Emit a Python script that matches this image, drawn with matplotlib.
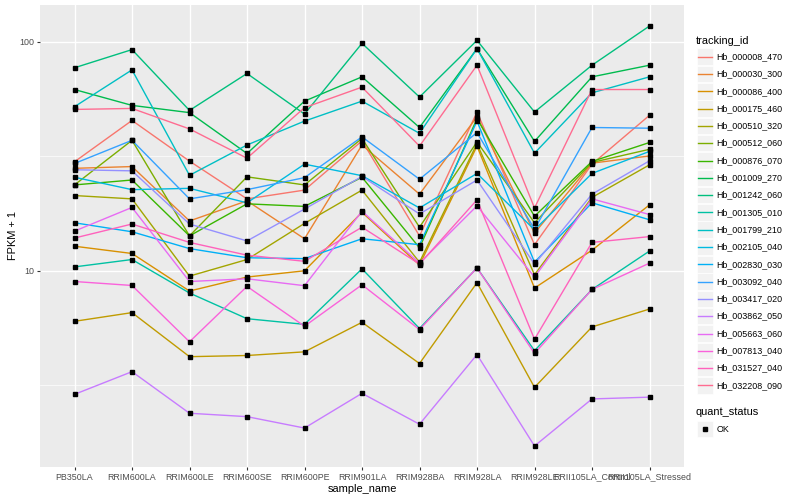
import matplotlib
matplotlib.use('Agg')
import matplotlib.pyplot as plt
from matplotlib.patches import Rectangle
from matplotlib.lines import Line2D
from matplotlib.ticker import FixedLocator, NullFormatter
import numpy as np

plt.rcParams['font.family'] = ['Liberation Sans', 'DejaVu Sans']

# 样本名
samples = ['PB350LA', 'RRIM600LA', 'RRIM600LE', 'RRIM600SE', 'RRIM600PE', 'RRIM901LA',
           'RRIM928BA', 'RRIM928LA', 'RRIM928LE', 'RRII105LA_Control', 'RRII105LA_Stressed']

tracking_ids = ['Hb_000008_470', 'Hb_000030_300', 'Hb_000086_400', 'Hb_000175_460',
                'Hb_000510_320', 'Hb_000512_060', 'Hb_000876_070', 'Hb_001009_270',
                'Hb_001242_060', 'Hb_001305_010', 'Hb_001799_210', 'Hb_002105_040',
                'Hb_002830_030', 'Hb_003092_040', 'Hb_003417_020', 'Hb_003862_050',
                'Hb_005663_060', 'Hb_007813_040', 'Hb_031527_040', 'Hb_032208_090']

# FPKM + 1 数值
hb_000008_470 = [29.9, 45.3, 30.1, 20.6, 22.5, 36.9, 14.2, 49.3, 13.0, 29.2, 47.7]
hb_000030_300 = [28.0, 28.5, 16.5, 20.2, 13.8, 35.4, 21.6, 47.0, 14.6, 29.5, 31.7]
hb_000086_400 = [12.8, 11.9, 8.16, 9.39, 10.0, 18.0, 10.6, 35.0, 8.41, 12.3, 19.4]
hb_000175_460 = [6.02, 6.57, 4.22, 4.27, 4.43, 5.96, 3.94, 8.87, 3.10, 5.69, 6.81]
hb_000510_320 = [21.3, 20.6, 9.48, 11.2, 16.1, 22.5, 10.9, 35.9, 9.61, 20.9, 29.0]
hb_000512_060 = [23.7, 37.1, 14.2, 25.7, 23.7, 37.8, 15.5, 36.5, 16.2, 29.7, 33.9]
hb_000876_070 = [23.7, 24.9, 14.2, 19.6, 19.1, 25.6, 12.6, 46.1, 17.3, 30.0, 36.3]
hb_001009_270 = [61.8, 52.7, 49.0, 32.5, 55.0, 70.2, 42.2, 93.2, 36.7, 70.2, 78.9]
hb_001242_060 = [76.9, 92.3, 50.1, 72.6, 48.3, 98.3, 57.3, 101.3, 49.3, 78.9, 117.0]
hb_001305_010 = [10.4, 11.2, 8.0, 6.18, 5.84, 10.2, 5.60, 10.3, 4.48, 8.29, 12.2]
hb_001799_210 = [52.0, 75.3, 26.1, 35.4, 45.0, 55.0, 39.8, 93.2, 32.6, 59.8, 70.2]
hb_002105_040 = [25.6, 22.6, 22.9, 19.8, 29.2, 26.0, 18.8, 26.6, 15.1, 26.6, 33.2]
hb_002830_030 = [16.2, 14.8, 12.5, 11.4, 11.3, 13.8, 13.0, 45.0, 10.9, 19.8, 16.7]
hb_003092_040 = [29.4, 37.1, 20.6, 22.6, 25.5, 38.4, 25.1, 40.1, 15.2, 42.2, 41.9]
hb_003417_020 = [27.6, 27.3, 16.0, 13.5, 18.6, 25.8, 17.7, 24.9, 10.7, 21.6, 30.2]
hb_003862_050 = [2.89, 3.63, 2.39, 2.31, 2.06, 2.92, 2.14, 4.31, 1.72, 2.76, 2.81]
hb_005663_060 = [14.9, 18.9, 8.98, 9.23, 8.61, 18.2, 10.8, 19.2, 9.39, 20.6, 17.6]
hb_007813_040 = [8.98, 8.63, 4.90, 8.55, 5.73, 8.69, 5.54, 10.3, 4.36, 8.29, 10.8]
hb_031527_040 = [13.9, 16.0, 13.3, 11.7, 11.0, 15.5, 10.7, 20.4, 5.03, 13.3, 14.1]
hb_032208_090 = [50.6, 51.1, 41.6, 31.0, 51.5, 63.3, 35.0, 78.9, 18.8, 61.8, 61.8]

series = [hb_000008_470, hb_000030_300, hb_000086_400, hb_000175_460, hb_000510_320,
          hb_000512_060, hb_000876_070, hb_001009_270, hb_001242_060, hb_001305_010,
          hb_001799_210, hb_002105_040, hb_002830_030, hb_003092_040, hb_003417_020,
          hb_003862_050, hb_005663_060, hb_007813_040, hb_031527_040, hb_032208_090]

# ggplot 默认色板 (20 色)
colors = ['#F8766D', '#EA8331', '#D89000', '#C09B00', '#A3A500', '#7CAE00', '#39B600',
          '#00BB4E', '#00BF7D', '#00C1A3', '#00BFC4', '#00BAE0', '#00B0F6', '#35A2FF',
          '#9590FF', '#C77CFF', '#E76BF3', '#FA62DB', '#FF62BC', '#FF6C91']

W, H = 800, 500
fig = plt.figure(figsize=(8, 5), dpi=100)
ax = fig.add_axes([40 / W, 1 - 467 / H, (684 - 40) / W, (467 - 5) / H])
ax.set_facecolor('#EBEBEB')

x = np.arange(len(samples))
for vals, c in zip(series, colors):
    ax.plot(x, vals, color=c, lw=1.0, zorder=2)
for vals in series:
    ax.plot(x, vals, linestyle='none', marker='s', color='black', ms=2.8, zorder=3)

ax.set_yscale('log')
logs = np.log10(np.concatenate(series))
pad = (logs.max() - logs.min()) * 0.05
ax.set_ylim(10 ** (logs.min() - pad), 10 ** (logs.max() + pad))
ax.set_xlim(-0.6, len(samples) - 0.4)

ax.yaxis.set_major_locator(FixedLocator([10, 100]))
ax.set_yticklabels(['10', '100'])
ax.yaxis.set_minor_locator(FixedLocator([10 ** 0.5, 10 ** 1.5]))
ax.yaxis.set_minor_formatter(NullFormatter())
ax.set_xticks(x)
ax.set_xticklabels(samples)

ax.grid(which='major', color='white', lw=1.0, zorder=0)
ax.grid(which='minor', axis='y', color='white', lw=0.5, zorder=0)
ax.set_axisbelow(True)
for s in ax.spines.values():
    s.set_visible(False)
ax.tick_params(which='major', length=2.5, width=0.8, color='#333333',
               labelcolor='#4D4D4D', labelsize=6.4, pad=1.5)
ax.tick_params(which='minor', length=0)

ax.set_xlabel('sample_name', fontsize=7.9, labelpad=2)
ax.set_ylabel('FPKM + 1', fontsize=7.9, labelpad=1)

# 图例：tracking_id
def fx(px):
    return px / W

def fy(py):
    return 1 - py / H

fig.text(fx(696), fy(40.7), 'tracking_id', fontsize=7.9, va='center', ha='left')
key_w, key_h = 16.5, 16.5
for i, (name, c) in enumerate(zip(tracking_ids, colors)):
    yc = 56.7 + 17.3 * i
    fig.patches.append(Rectangle((fx(696.5), fy(yc + key_h / 2)), key_w / W, key_h / H,
                                 transform=fig.transFigure, facecolor='#F2F2F2',
                                 edgecolor='white', lw=0.5))
    fig.lines.append(Line2D([fx(698), fx(711.5)], [fy(yc), fy(yc)],
                            transform=fig.transFigure, color=c, lw=1.0))
    fig.text(fx(716.5), fy(yc), name, fontsize=6.4, va='center', ha='left')

# 图例：quant_status
fig.text(fx(696), fy(412.3), 'quant_status', fontsize=7.9, va='center', ha='left')
yc = 429
fig.patches.append(Rectangle((fx(696.5), fy(yc + key_h / 2)), key_w / W, key_h / H,
                             transform=fig.transFigure, facecolor='#F2F2F2',
                             edgecolor='white', lw=0.5))
fig.lines.append(Line2D([fx(704.7)], [fy(yc)], transform=fig.transFigure,
                        linestyle='none', marker='s', color='black', ms=2.8))
fig.text(fx(716.5), fy(yc), 'OK', fontsize=6.4, va='center', ha='left')

fig.savefig('out.png', dpi=100)
